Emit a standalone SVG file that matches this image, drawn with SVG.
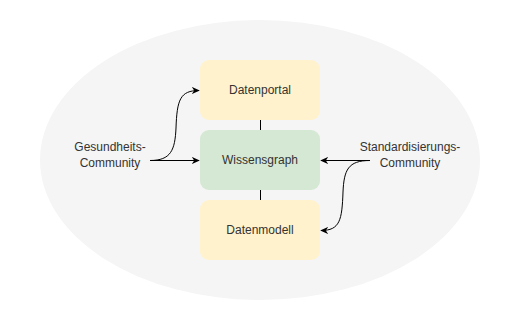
<svg xmlns="http://www.w3.org/2000/svg" width="520" height="320" viewBox="0 0 520 320">
  <style>
    .box { stroke: none; }
    .portal { fill: #fff2cc; }
    .graph { fill: #d5e8d4; }
    .label { font-family: "Liberation Sans", Arial, sans-serif; font-size: 12px; fill: #333333; text-anchor: middle; }
    .edge { fill: none; stroke: #000000; stroke-width: 1; }
  </style>
  <defs>
    <marker id="arrow" viewBox="0 0 10 10" refX="9" refY="5" markerWidth="8" markerHeight="8" markerUnits="userSpaceOnUse" orient="auto">
      <path d="M0,0.5 L10,5 L0,9.5 L3,5 Z" fill="#000000"/>
    </marker>
  </defs>

  <!-- background ellipse -->
  <ellipse id="background" cx="260" cy="160" rx="220" ry="140" fill="#f5f5f5"/>

  <!-- connectors (half-pixel offsets keep straight lines crisp) -->
  <g id="connectors">
    <line class="edge" x1="260.5" y1="120" x2="260.5" y2="130"/>
    <line class="edge" x1="260.5" y1="190" x2="260.5" y2="200"/>
    <path class="edge" d="M150,160.5 L199,160.5" marker-end="url(#arrow)"/>
    <path class="edge" d="M150,160.5 C171,160.5 175,150 176,128 C177,100 180,90.5 199,90.5" marker-end="url(#arrow)"/>
    <path class="edge" d="M370,160.5 L321,160.5" marker-end="url(#arrow)"/>
    <path class="edge" d="M370,160.5 C348,160.5 344,170 343,192 C342,220 340,230.5 321,230.5" marker-end="url(#arrow)"/>
  </g>

  <!-- nodes -->
  <g id="datenportal">
    <rect class="box portal" x="200" y="60" width="120" height="60" rx="9" ry="9"/>
    <text class="label" x="260" y="94">Datenportal</text>
  </g>
  <g id="wissensgraph">
    <rect class="box graph" x="200" y="130" width="120" height="60" rx="9" ry="9"/>
    <text class="label" x="260" y="164">Wissensgraph</text>
  </g>
  <g id="datenmodell">
    <rect class="box portal" x="200" y="200" width="120" height="60" rx="9" ry="9"/>
    <text class="label" x="260" y="234">Datenmodell</text>
  </g>
  <g id="gesundheits-community">
    <text class="label" x="110" y="151">Gesundheits-</text>
    <text class="label" x="110" y="167">Community</text>
  </g>
  <g id="standardisierungs-community">
    <text class="label" x="410" y="151">Standardisierungs-</text>
    <text class="label" x="410" y="167">Community</text>
  </g>
</svg>
